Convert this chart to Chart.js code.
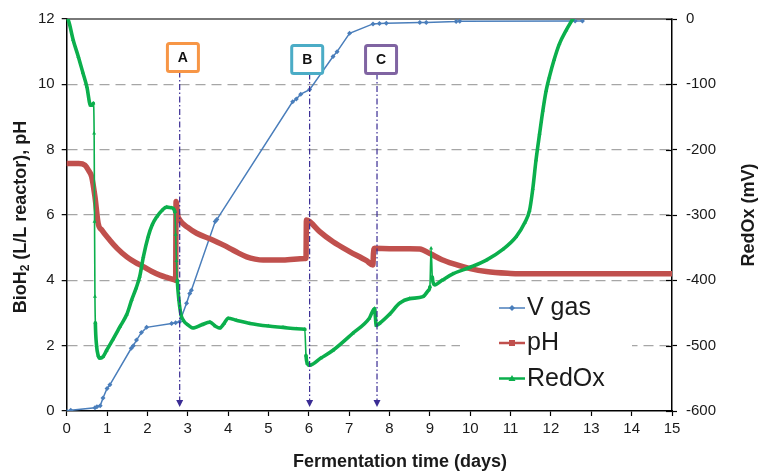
<!DOCTYPE html>
<html>
<head>
<meta charset="utf-8">
<script src="https://cdn.jsdelivr.net/npm/chart.js@4.4.1/dist/chart.umd.min.js"></script>
<style>
  html, body { margin: 0; padding: 0; background: #fff; }
  #wrap { width: 759px; height: 474px; }
</style>
</head>
<body>
<div id="wrap"><canvas id="c" width="759" height="474"></canvas></div>
<script>
// ---- Data ----
const xTicks = [0,1,2,3,4,5,6,7,8,9,10,11,12,13,14,15];
const leftTicks = [0,2,4,6,8,10,12];
const rightTicks = [-600,-500,-400,-300,-200,-100,0];

const vgasDays = [0, 0.1, 0.7, 0.75, 0.83, 0.9, 1.0, 1.07, 1.6, 1.65, 1.73, 1.85, 1.98, 2.6, 2.7, 2.8, 2.97, 3.05, 3.09, 3.68, 3.72, 5.6, 5.69, 5.8, 6.02, 6.6, 6.7, 7.01, 7.59, 7.75, 7.92, 8.75, 8.91, 9.65, 9.74, 12.6, 12.78];
const vgasValues = [0, 0.02, 0.1, 0.13, 0.16, 0.4, 0.69, 0.8, 1.92, 2.0, 2.17, 2.4, 2.56, 2.68, 2.7, 2.73, 3.3, 3.6, 3.7, 5.8, 5.86, 9.47, 9.55, 9.7, 9.84, 10.85, 11.0, 11.56, 11.85, 11.86, 11.87, 11.89, 11.89, 11.92, 11.93, 11.94, 11.94];

const phDays = [0, 0.3, 0.45, 0.55, 0.62, 0.7, 0.78, 0.87, 1.07, 1.25, 1.49, 1.7, 1.9, 2.1, 2.31, 2.5, 2.68, 2.7, 2.71, 2.75, 2.8, 3.0, 3.22, 3.63, 3.85, 4.04, 4.25, 4.46, 4.67, 4.87, 5.36, 5.9, 5.93, 5.94, 6.02, 6.27, 6.6, 7.01, 7.43, 7.59, 7.6, 7.63, 8.0, 8.5, 8.75, 9.0, 9.3, 9.57, 10.0, 10.4, 11.0, 11.2, 15];
const phValues = [7.58, 7.58, 7.53, 7.35, 7.17, 6.56, 5.74, 5.54, 5.23, 4.98, 4.72, 4.55, 4.42, 4.28, 4.16, 4.08, 4.01, 4.0, 6.41, 6.0, 5.85, 5.62, 5.44, 5.23, 5.1, 4.98, 4.84, 4.72, 4.65, 4.62, 4.62, 4.67, 4.67, 5.85, 5.8, 5.49, 5.18, 4.88, 4.6, 4.47, 4.8, 4.98, 4.97, 4.97, 4.96, 4.82, 4.63, 4.51, 4.36, 4.27, 4.21, 4.2, 4.2];

const redoxDays = [0, 0.04, 0.16, 0.29, 0.4, 0.5, 0.59, 0.63, 0.66, 0.68, 0.69, 0.7, 0.71, 0.74, 0.78, 0.82, 0.9, 0.99, 1.15, 1.32, 1.49, 1.61, 1.72, 1.81, 1.9, 2.02, 2.12, 2.23, 2.36, 2.48, 2.6, 2.68, 2.7, 2.72, 2.74, 2.78, 2.83, 2.9, 3.0, 3.13, 3.35, 3.55, 3.68, 3.79, 3.9, 4.0, 4.2, 4.54, 5.0, 5.36, 5.7, 5.9, 5.93, 5.96, 6.02, 6.3, 6.6, 7.09, 7.5, 7.63, 7.67, 7.75, 8.0, 8.25, 8.5, 8.83, 8.97, 9.0, 9.03, 9.06, 9.12, 9.3, 9.57, 10.0, 10.4, 10.8, 11.14, 11.35, 11.47, 11.55, 11.63, 11.72, 11.8, 11.88, 11.96, 12.08, 12.21, 12.38, 12.54];
const redoxValues = [0, -2, -32, -58, -82, -104, -132, -132, -129, -175, -310, -425, -465, -500, -515, -519, -517, -507, -490, -471, -452, -430, -412, -394, -364, -333, -315, -303, -293, -288, -289, -295, -330, -370, -400, -430, -452, -462, -468, -473, -468, -464, -470, -473, -466, -458, -461, -466, -470, -472, -474, -475, -515, -527, -530, -519, -507, -481, -458, -443, -469, -466, -452, -435, -428, -425, -415, -410, -351, -395, -407, -400, -390, -380, -369, -353, -333, -312, -293, -260, -216, -175, -140, -110, -89, -62, -38, -17, 0];

const eventLabels = ['A', 'B', 'C'];
const eventDays = [2.8, 6.02, 7.69];
const eventBoxDays = [2.88, 5.96, 7.79];

const seriesNames = ['V gas', 'pH', 'RedOx'];
const seriesColors = ['#4A7EBB', '#C0504D', '#0BAF4C'];
const boxColors = ['#F79646', '#4BACC6', '#8064A2'];

const toPts = (xs, ys) => xs.map((d, i) => ({ x: d, y: ys[i] }));
const FONT = "'Liberation Sans', Arial, Helvetica, sans-serif";

const overlay = {
  id: 'overlay',
  beforeDatasetsDraw(chart) {
    const { ctx, chartArea: a, scales } = chart;
    ctx.save();
    ctx.strokeStyle = '#4d4d4d';
    ctx.lineWidth = 1.5;
    ctx.beginPath();
    ctx.moveTo(a.left, a.top);
    ctx.lineTo(a.right, a.top);
    ctx.stroke();
    ctx.strokeStyle = '#000';
    ctx.lineWidth = 1.2;
    rightTicks.forEach(v => {
      const y = Math.round(scales.y2.getPixelForValue(v)) + 0.5;
      ctx.beginPath();
      ctx.moveTo(a.right - 6, y);
      ctx.lineTo(a.right, y);
      ctx.stroke();
    });
    ctx.restore();
  },
  afterDatasetsDraw(chart) {
    const { ctx, chartArea: a, scales } = chart;
    ctx.save();
    const boxTops = [43.5, 45.5, 45.5];
    eventLabels.forEach((lab, i) => {
      const ax = scales.x.getPixelForValue(eventDays[i]);
      const bx = scales.x.getPixelForValue(eventBoxDays[i]);
      const bw = 31, bh = 28;
      const top = boxTops[i];
      ctx.strokeStyle = '#3A2C94';
      ctx.lineWidth = 1.2;
      ctx.setLineDash([6, 2.5, 1.5, 2.5]);
      ctx.beginPath();
      ctx.moveTo(ax, top + bh);
      ctx.lineTo(ax, a.bottom - 9);
      ctx.stroke();
      ctx.setLineDash([]);
      ctx.fillStyle = '#3A2C94';
      ctx.beginPath();
      ctx.moveTo(ax, a.bottom - 4);
      ctx.lineTo(ax - 3.5, a.bottom - 11);
      ctx.lineTo(ax + 3.5, a.bottom - 11);
      ctx.closePath();
      ctx.fill();
      ctx.fillStyle = '#fff';
      ctx.strokeStyle = boxColors[i];
      ctx.lineWidth = 3;
      ctx.beginPath();
      if (ctx.roundRect) ctx.roundRect(bx - bw / 2, top, bw, bh, 2);
      else ctx.rect(bx - bw / 2, top, bw, bh);
      ctx.fill();
      ctx.stroke();
      ctx.fillStyle = '#111';
      ctx.font = 'bold 14px ' + FONT;
      ctx.textAlign = 'center';
      ctx.textBaseline = 'middle';
      ctx.fillText(lab, bx, top + bh / 2 + 0.5);
    });

    ctx.fillStyle = '#fff';
    ctx.fillRect(460, 287, 172, 110);
    const baselines = [315, 350, 385.5];
    ctx.font = '25px ' + FONT;
    ctx.textAlign = 'left';
    ctx.textBaseline = 'alphabetic';
    seriesNames.forEach((name, i) => {
      const ly = baselines[i] - 7;
      ctx.strokeStyle = seriesColors[i];
      ctx.lineWidth = i === 0 ? 1.5 : 2.5;
      ctx.beginPath();
      ctx.moveTo(499, ly);
      ctx.lineTo(525, ly);
      ctx.stroke();
      ctx.fillStyle = seriesColors[i];
      ctx.beginPath();
      if (i === 0) {
        ctx.moveTo(512, ly - 3); ctx.lineTo(515, ly); ctx.lineTo(512, ly + 3); ctx.lineTo(509, ly);
      } else if (i === 1) {
        ctx.rect(509, ly - 3, 6, 6);
      } else {
        ctx.moveTo(512, ly - 3.5); ctx.lineTo(515.5, ly + 2.5); ctx.lineTo(508.5, ly + 2.5);
      }
      ctx.closePath();
      ctx.fill();
      ctx.fillStyle = '#1a1a1a';
      ctx.fillText(name, 527, baselines[i]);
    });
    ctx.restore();
  },
  afterDraw(chart) {
    const { ctx } = chart;
    ctx.save();
    ctx.fillStyle = '#1a1a1a';
    ctx.font = 'bold 18px ' + FONT;
    ctx.textAlign = 'center';
    ctx.textBaseline = 'middle';
    ctx.fillText('Fermentation time (days)', 400, 462);
    ctx.save();
    ctx.translate(749, 215);
    ctx.rotate(-Math.PI / 2);
    ctx.fillText('RedOx (mV)', 0, 0);
    ctx.restore();
    ctx.save();
    ctx.translate(21, 217);
    ctx.rotate(-Math.PI / 2);
    const p1 = 'BioH', p2 = '2', p3 = ' (L/L reactor), pH';
    ctx.font = 'bold 18px ' + FONT;
    const w1 = ctx.measureText(p1).width, w3 = ctx.measureText(p3).width;
    ctx.font = 'bold 12px ' + FONT;
    const w2 = ctx.measureText(p2).width;
    const total = w1 + w2 + w3;
    let x0 = -total / 2;
    ctx.textAlign = 'left';
    ctx.font = 'bold 18px ' + FONT;
    ctx.fillText(p1, x0, 0);
    ctx.font = 'bold 12px ' + FONT;
    ctx.fillText(p2, x0 + w1, 5);
    ctx.font = 'bold 18px ' + FONT;
    ctx.fillText(p3, x0 + w1 + w2, 0);
    ctx.restore();
    ctx.restore();
  }
};

const steepWidth = (c) => {
  const p0 = c.p0.parsed, p1 = c.p1.parsed;
  const slope = Math.abs(p1.y - p0.y) / Math.max(1e-6, Math.abs(p1.x - p0.x));
  return slope > 1200 ? 1.6 : 3.6;
};

new Chart(document.getElementById('c'), {
  type: 'line',
  data: {
    datasets: [
      {
        label: seriesNames[0],
        data: toPts(vgasDays, vgasValues),
        yAxisID: 'y',
        borderColor: seriesColors[0],
        backgroundColor: seriesColors[0],
        borderWidth: 1.5,
        pointStyle: 'rectRot',
        pointRadius: 2.5,
        pointBorderWidth: 0,
        order: 3
      },
      {
        label: seriesNames[1],
        data: toPts(phDays, phValues),
        yAxisID: 'y',
        borderColor: seriesColors[1],
        backgroundColor: seriesColors[1],
        borderWidth: 5.5,
        borderJoinStyle: 'round',
        borderCapStyle: 'round',
        cubicInterpolationMode: 'monotone',
        pointStyle: 'rect',
        pointRadius: 0,
        order: 2
      },
      {
        label: seriesNames[2],
        data: toPts(redoxDays, redoxValues),
        yAxisID: 'y2',
        borderColor: seriesColors[2],
        backgroundColor: seriesColors[2],
        borderWidth: 3.6,
        borderJoinStyle: 'round',
        borderCapStyle: 'round',
        cubicInterpolationMode: 'monotone',
        pointStyle: 'triangle',
        pointRadius: 2.3,
        pointBorderWidth: 0,
        segment: { borderWidth: steepWidth },
        order: 1
      }
    ]
  },
  options: {
    responsive: false,
    animation: false,
    devicePixelRatio: 1,
    layout: { padding: { top: 19, left: 0, right: 0, bottom: 0 } },
    plugins: { legend: { display: false }, tooltip: { enabled: false } },
    scales: {
      x: {
        type: 'linear',
        min: 0, max: 15,
        afterFit: (s) => { s.height = 63; },
        afterBuildTicks: (s) => { s.ticks = xTicks.map(v => ({ value: v })); },
        ticks: { font: { size: 15, family: FONT }, color: '#1a1a1a', padding: 4, maxRotation: 0 },
        grid: { display: true, drawOnChartArea: false, drawTicks: true, tickLength: 5, tickColor: '#000', tickWidth: 1.2 },
        border: { display: true, color: '#000', width: 1.5 }
      },
      y: {
        position: 'left',
        min: 0, max: 12,
        afterFit: (s) => { s.width = 66.7; },
        afterBuildTicks: (s) => { s.ticks = leftTicks.map(v => ({ value: v })); },
        ticks: { font: { size: 15, family: FONT }, color: '#1a1a1a', padding: 7 },
        grid: {
          color: (c) => (c.tick && (c.tick.value === 0 || c.tick.value === 12)) ? 'rgba(0,0,0,0)' : '#A6A6A6',
          lineWidth: 1.3, drawTicks: true, tickLength: 5, tickColor: '#000', tickWidth: 1.2, tickBorderDash: []
        },
        border: { display: true, color: '#000', width: 1.5, dash: [10, 6] }
      },
      y2: {
        position: 'right',
        min: -600, max: 0,
        afterFit: (s) => { s.width = 87; },
        afterBuildTicks: (s) => { s.ticks = rightTicks.map(v => ({ value: v })); },
        ticks: { font: { size: 15, family: FONT }, color: '#1a1a1a', padding: 9 },
        grid: { display: true, drawOnChartArea: false, drawTicks: true, tickLength: 5, tickColor: '#000', tickWidth: 1.2 },
        border: { display: true, color: '#000', width: 1.5 }
      }
    }
  },
  plugins: [overlay]
});
</script>
</body>
</html>
